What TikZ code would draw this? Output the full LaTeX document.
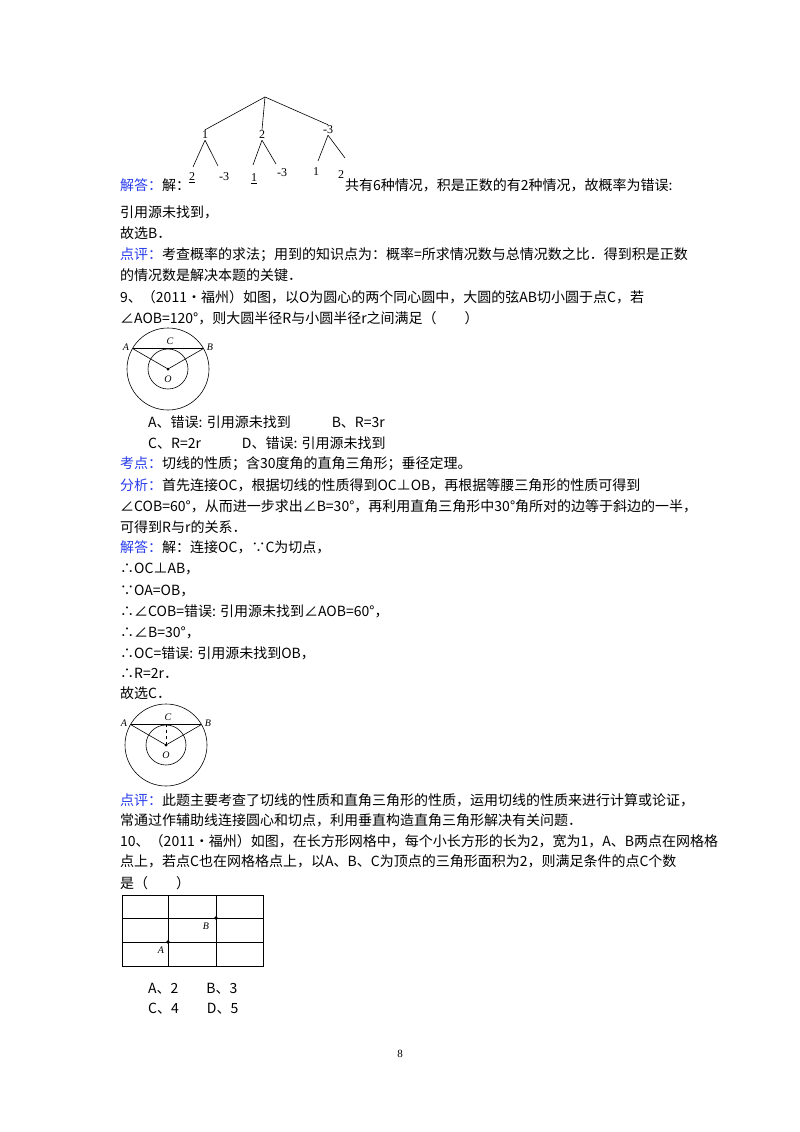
\documentclass[tikz,border=0pt]{standalone}
\usepackage{fontspec}
\setmainfont{Noto Sans CJK SC}
\newfontfamily\lat{Liberation Serif}
\definecolor{lblue}{RGB}{40,60,235}
\begin{document}
\begin{tikzpicture}[x=1pt,y=-1pt,
  tx/.style={anchor=base west,inner sep=0pt,font=\fontsize{14}{14}\selectfont},
  tl/.style={font=\fontsize{12}{12}\selectfont\lat,inner sep=1pt},
  gl/.style={font=\fontsize{10}{10}\selectfont\lat\itshape,inner sep=1pt},
  ln/.style={line width=0.6pt}]
\useasboundingbox (0,0) rectangle (800,1132);
% tree
\coordinate (r) at (265,97);
\node[tl] (n1) at (205,135) {1};
\node[tl] (n2) at (262,135) {2};
\node[tl] (n3) at (328,130) {-3};
\draw[ln] (r) -- (n1.north);
\draw[ln] (r) -- (n2.north);
\draw[ln] (r) -- (n3.north);
\node[tl,inner sep=0pt] (a1) at (192,178) {\underline{2}};
\node[tl] (a2) at (224,177) {-3};
\node[tl] (b1) at (254,179) {\underline{1}};
\node[tl] (b2) at (282,173) {-3};
\node[tl] (c1) at (316,172) {1};
\node[tl] (c2) at (341,175) {2};
\draw[ln] (n1.south) -- (193,167) (n1.south) -- (218,166);
\draw[ln] (n2.south) -- (253,165) (n2.south) -- (276,164);
\draw[ln] (n3.south) -- (318,161) (n3.south) -- (345,158);
\node[tx] (t1) at (120,190) {\textcolor{lblue}{解答：}解：};
\node[tx] at (345,190) {共有6种情况，积是正数的有2种情况，故概率为错误:};
\node[tx] at (120,217) {引用源未找到，};
\node[tx] at (120,238) {故选B．};
\node[tx] at (120,259) {\textcolor{lblue}{点评：}考查概率的求法；用到的知识点为：概率=所求情况数与总情况数之比．得到积是正数};
\node[tx] at (120,280) {的情况数是解决本题的关键．};
\node[tx] at (120,302) {9、（2011•福州）如图，以O为圆心的两个同心圆中，大圆的弦AB切小圆于点C，若};
\node[tx] at (120,323) {∠AOB=120°，则大圆半径R与小圆半径r之间满足（　　）};
% figure 1
\coordinate (O1) at (168,369);
\draw[ln] (O1) circle (41);
\draw[ln] (O1) circle (20);
\coordinate (A1) at (132.5,348.5);
\coordinate (B1) at (203.5,348.5);
\draw[ln] (A1) -- (B1) (A1) -- (O1) -- (B1);
\fill (O1) circle (1.5);
\node[gl] at (126,347) {A};
\node[gl] at (210,347) {B};
\node[gl] at (170,341) {C};
\node[gl] at (168,379) {O};
\node[tx] at (148,427) {A、错误: 引用源未找到　　\hspace{13pt}B、R=3r};
\node[tx] at (148,448) {C、R=2r　　\hspace{13pt}D、错误: 引用源未找到};
\node[tx] at (120,468) {\textcolor{lblue}{考点：}切线的性质；含30度角的直角三角形；垂径定理。};
\node[tx] at (120,490) {\textcolor{lblue}{分析：}首先连接OC，根据切线的性质得到OC⊥OB，再根据等腰三角形的性质可得到};
\node[tx] at (120,511) {∠COB=60°，从而进一步求出∠B=30°，再利用直角三角形中30°角所对的边等于斜边的一半，};
\node[tx] at (120,532) {可得到R与r的关系．};
\node[tx] at (120,552) {\textcolor{lblue}{解答：}解：连接OC，∵C为切点，};
\node[tx] at (120,573) {∴OC⊥AB，};
\node[tx] at (120,595) {∵OA=OB，};
\node[tx] at (120,616) {∴∠COB=错误: 引用源未找到∠AOB=60°，};
\node[tx] at (120,637) {∴∠B=30°，};
\node[tx] at (120,658) {∴OC=错误: 引用源未找到OB，};
\node[tx] at (120,678) {∴R=2r．};
\node[tx] at (120,698) {故选C．};
% figure 2
\coordinate (O2) at (166,745);
\draw[ln] (O2) circle (41);
\draw[ln] (O2) circle (20);
\coordinate (A2) at (130.5,724.5);
\coordinate (B2) at (201.5,724.5);
\coordinate (C2) at (166,724.5);
\draw[ln] (A2) -- (B2) (A2) -- (O2) -- (B2);
\draw[ln,dashed] (O2) -- (C2);
\fill (O2) circle (1.5);
\node[gl] at (124,723) {A};
\node[gl] at (208,723) {B};
\node[gl] at (168,717) {C};
\node[gl] at (166,755) {O};
\node[tx] at (120,805) {\textcolor{lblue}{点评：}此题主要考查了切线的性质和直角三角形的性质，运用切线的性质来进行计算或论证，};
\node[tx] at (120,825) {常通过作辅助线连接圆心和切点，利用垂直构造直角三角形解决有关问题．};
\node[tx] at (120,846) {10、（2011•福州）如图，在长方形网格中，每个小长方形的长为2，宽为1，A、B两点在网格格};
\node[tx] at (120,866) {点上，若点C也在网格格点上，以A、B、C为顶点的三角形面积为2，则满足条件的点C个数};
\node[tx] at (120,888) {是（　　）};
% grid
\draw[ln] (122,895) rectangle (263,966);
\draw[ln] (168,895) -- (168,966) (216,895) -- (216,966);
\draw[ln] (122,918) -- (263,918) (122,942) -- (263,942);
\coordinate (gA) at (168,942);
\coordinate (gB) at (216,918);
\fill (gA) circle (1.8) (gB) circle (1.8);
\node[gl] at (161,950) {A};
\node[gl] at (206,926) {B};
\node[tx] at (148,993) {A、2　　B、3};
\node[tx] at (148,1013) {C、4　　D、5};
\node[anchor=base,inner sep=0pt,font=\fontsize{11}{11}\selectfont\lat] at (400,1057) {8};
\end{tikzpicture}
\end{document}
